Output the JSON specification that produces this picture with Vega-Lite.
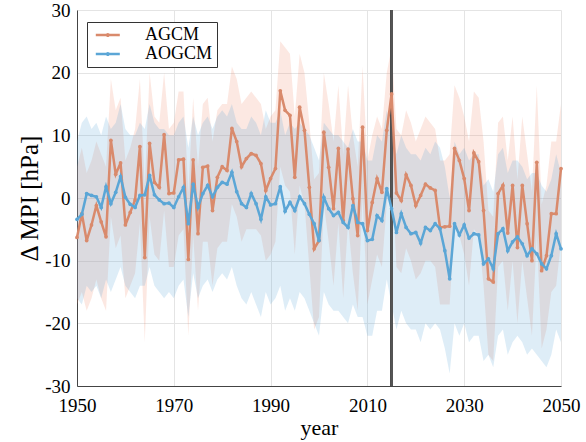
{
  "$schema": "https://vega.github.io/schema/vega-lite/v6.json",
  "width": 484,
  "height": 376,
  "autosize": {"type": "none"},
  "padding": {"left": 77, "top": 10, "right": 25, "bottom": 56},
  "background": "white",
  "config": {
    "view": {"stroke": null},
    "font": "Liberation Serif",
    "scale": {"continuousPadding": 0},
    "axis": {
      "labelFont": "Liberation Serif",
      "labelFontSize": 19,
      "labelColor": "black",
      "labelFlush": false,
      "titleFont": "Liberation Serif",
      "titleFontWeight": "normal",
      "titleColor": "black",
      "gridColor": "#e4e4e4",
      "gridWidth": 1,
      "domainColor": "#444444",
      "domainWidth": 1,
      "ticks": false
    },
    "legend": {
      "labelFont": "Liberation Serif",
      "labelFontSize": 18,
      "labelColor": "black"
    }
  },
  "data": {
    "values": [
      {"year":1950,"a":-6.3,"alo":-17,"ahi":5,"o":-3.4,"olo":-16,"ohi":9},
      {"year":1951,"a":-2.5,"alo":-15,"ahi":8,"o":-2.6,"olo":-17,"ohi":12},
      {"year":1952,"a":-6.8,"alo":-18,"ahi":4,"o":0.7,"olo":-14,"ohi":13},
      {"year":1953,"a":-4.3,"alo":-16,"ahi":6,"o":0.4,"olo":-15,"ohi":11},
      {"year":1954,"a":-1.2,"alo":-13,"ahi":9,"o":0.2,"olo":-14,"ohi":12},
      {"year":1955,"a":-3.8,"alo":-16,"ahi":7,"o":-1.5,"olo":-16,"ohi":10},
      {"year":1956,"a":-6.2,"alo":-18,"ahi":5,"o":1.8,"olo":-13,"ohi":13},
      {"year":1957,"a":9.2,"alo":-3,"ahi":19,"o":-0.9,"olo":-15,"ohi":11},
      {"year":1958,"a":3.8,"alo":-8,"ahi":14,"o":0.9,"olo":-13,"ohi":12},
      {"year":1959,"a":5.6,"alo":-6,"ahi":16,"o":3.4,"olo":-11,"ohi":15},
      {"year":1960,"a":-4.3,"alo":-16,"ahi":6,"o":0.1,"olo":-14,"ohi":11},
      {"year":1961,"a":-2.3,"alo":-14,"ahi":8,"o":-1.0,"olo":-15,"ohi":10},
      {"year":1962,"a":-0.3,"alo":-12,"ahi":11,"o":-1.5,"olo":-16,"ohi":10},
      {"year":1963,"a":8.2,"alo":-4,"ahi":19,"o":0.4,"olo":-14,"ohi":12},
      {"year":1964,"a":-9.5,"alo":-23,"ahi":2,"o":0.5,"olo":-14,"ohi":11},
      {"year":1965,"a":8.7,"alo":-3,"ahi":20,"o":3.6,"olo":-11,"ohi":15},
      {"year":1966,"a":2.5,"alo":-9,"ahi":13,"o":0.5,"olo":-14,"ohi":12},
      {"year":1967,"a":1.7,"alo":-10,"ahi":12,"o":-0.3,"olo":-15,"ohi":11},
      {"year":1968,"a":10.1,"alo":-2,"ahi":20,"o":-0.9,"olo":-16,"ohi":11},
      {"year":1969,"a":0.7,"alo":-11,"ahi":11,"o":-0.8,"olo":-15,"ohi":10},
      {"year":1970,"a":0.8,"alo":-11,"ahi":12,"o":-1.5,"olo":-16,"ohi":10},
      {"year":1971,"a":6.1,"alo":-6,"ahi":17,"o":0.2,"olo":-14,"ohi":12},
      {"year":1972,"a":6.2,"alo":-5,"ahi":17,"o":1.7,"olo":-13,"ohi":13},
      {"year":1973,"a":-9.8,"alo":-22,"ahi":1,"o":-4.1,"olo":-19,"ohi":8},
      {"year":1974,"a":6.1,"alo":-6,"ahi":16,"o":2.2,"olo":-12,"ohi":13},
      {"year":1975,"a":-5.7,"alo":-18,"ahi":5,"o":-1.5,"olo":-16,"ohi":10},
      {"year":1976,"a":4.9,"alo":-7,"ahi":15,"o":0.7,"olo":-14,"ohi":12},
      {"year":1977,"a":5.1,"alo":-7,"ahi":16,"o":2.0,"olo":-13,"ohi":13},
      {"year":1978,"a":-2.0,"alo":-14,"ahi":9,"o":0.2,"olo":-15,"ohi":11},
      {"year":1979,"a":3.3,"alo":-8,"ahi":14,"o":1.7,"olo":-13,"ohi":13},
      {"year":1980,"a":5.0,"alo":-7,"ahi":15,"o":2.5,"olo":-12,"ohi":14},
      {"year":1981,"a":4.4,"alo":-7,"ahi":15,"o":2.2,"olo":-13,"ohi":13},
      {"year":1982,"a":11.1,"alo":-1,"ahi":21,"o":4.1,"olo":-11,"ohi":15},
      {"year":1983,"a":9.0,"alo":-3,"ahi":19,"o":1.0,"olo":-14,"ohi":12},
      {"year":1984,"a":5.0,"alo":-7,"ahi":15,"o":-0.9,"olo":-16,"ohi":11},
      {"year":1985,"a":6.3,"alo":-5,"ahi":16,"o":-1.5,"olo":-17,"ohi":11},
      {"year":1986,"a":7.1,"alo":-5,"ahi":17,"o":0.7,"olo":-15,"ohi":13},
      {"year":1987,"a":6.8,"alo":-5,"ahi":16,"o":-0.9,"olo":-17,"ohi":12},
      {"year":1988,"a":5.5,"alo":-6,"ahi":15,"o":-3.4,"olo":-19,"ohi":10},
      {"year":1989,"a":1.2,"alo":-10,"ahi":11,"o":0.2,"olo":-15,"ohi":14},
      {"year":1990,"a":3.1,"alo":-9,"ahi":13,"o":-1.1,"olo":-17,"ohi":12},
      {"year":1991,"a":4.7,"alo":-7,"ahi":14,"o":-0.9,"olo":-16,"ohi":12},
      {"year":1992,"a":17.1,"alo":5,"ahi":25,"o":1.8,"olo":-14,"ohi":14},
      {"year":1993,"a":14.0,"alo":2,"ahi":24,"o":-2.1,"olo":-18,"ohi":10},
      {"year":1994,"a":13.2,"alo":1,"ahi":23,"o":-0.7,"olo":-16,"ohi":12},
      {"year":1995,"a":3.3,"alo":-9,"ahi":13,"o":-2.0,"olo":-18,"ohi":11},
      {"year":1996,"a":14.5,"alo":2,"ahi":23,"o":0.2,"olo":-15,"ohi":12},
      {"year":1997,"a":10.8,"alo":-1,"ahi":20,"o":-0.9,"olo":-16,"ohi":11},
      {"year":1998,"a":1.7,"alo":-11,"ahi":12,"o":-2.6,"olo":-18,"ohi":10},
      {"year":1999,"a":-8.1,"alo":-21,"ahi":3,"o":-4.1,"olo":-20,"ohi":8},
      {"year":2000,"a":-6.8,"alo":-19,"ahi":4,"o":-6.8,"olo":-22,"ohi":6},
      {"year":2001,"a":10.5,"alo":-1,"ahi":20,"o":0.1,"olo":-15,"ohi":12},
      {"year":2002,"a":4.9,"alo":-7,"ahi":15,"o":-1.7,"olo":-17,"ohi":11},
      {"year":2003,"a":-1.7,"alo":-14,"ahi":9,"o":-2.8,"olo":-18,"ohi":10},
      {"year":2004,"a":7.9,"alo":-4,"ahi":18,"o":-2.3,"olo":-18,"ohi":10},
      {"year":2005,"a":-3.6,"alo":-16,"ahi":7,"o":-3.9,"olo":-19,"ohi":9},
      {"year":2006,"a":7.8,"alo":-4,"ahi":18,"o":-4.7,"olo":-20,"ohi":8},
      {"year":2007,"a":-0.1,"alo":-12,"ahi":10,"o":-1.2,"olo":-17,"ohi":11},
      {"year":2008,"a":-6.0,"alo":-18,"ahi":5,"o":-3.9,"olo":-19,"ohi":9},
      {"year":2009,"a":11.3,"alo":0,"ahi":21,"o":-4.1,"olo":-19,"ohi":9},
      {"year":2010,"a":-5.2,"alo":-17,"ahi":6,"o":-6.8,"olo":-22,"ohi":6},
      {"year":2011,"a":-0.7,"alo":-13,"ahi":10,"o":-6.6,"olo":-22,"ohi":6},
      {"year":2012,"a":3.1,"alo":-9,"ahi":13,"o":-2.8,"olo":-18,"ohi":10},
      {"year":2013,"a":0.9,"alo":-11,"ahi":11,"o":-3.6,"olo":-18,"ohi":9},
      {"year":2014,"a":10.8,"alo":-1,"ahi":20,"o":1.5,"olo":-13,"ohi":14},
      {"year":2015,"a":16.6,"alo":5,"ahi":24,"o":-1.7,"olo":-17,"ohi":11},
      {"year":2016,"a":0.8,"alo":-11,"ahi":11,"o":-5.5,"olo":-21,"ohi":7},
      {"year":2017,"a":-0.4,"alo":-12,"ahi":10,"o":-2.5,"olo":-18,"ohi":10},
      {"year":2018,"a":3.7,"alo":-8,"ahi":14,"o":-4.7,"olo":-20,"ohi":8},
      {"year":2019,"a":2.0,"alo":-10,"ahi":12,"o":-5.7,"olo":-21,"ohi":7},
      {"year":2020,"a":-1.2,"alo":-13,"ahi":9,"o":-5.5,"olo":-21,"ohi":7},
      {"year":2021,"a":0.4,"alo":-12,"ahi":11,"o":-7.2,"olo":-23,"ohi":6},
      {"year":2022,"a":2.2,"alo":-10,"ahi":13,"o":-4.7,"olo":-20,"ohi":8},
      {"year":2023,"a":1.6,"alo":-10,"ahi":12,"o":-5.2,"olo":-21,"ohi":7},
      {"year":2024,"a":1.2,"alo":-11,"ahi":11,"o":-4.1,"olo":-20,"ohi":9},
      {"year":2025,"a":-4.7,"alo":-17,"ahi":6,"o":-4.9,"olo":-21,"ohi":8},
      {"year":2026,"a":-4.6,"alo":-17,"ahi":6,"o":-8.4,"olo":-24,"ohi":5},
      {"year":2027,"a":-4.5,"alo":-17,"ahi":7,"o":-12.9,"olo":-28,"ohi":0},
      {"year":2028,"a":7.9,"alo":-4,"ahi":18,"o":-4.1,"olo":-20,"ohi":9},
      {"year":2029,"a":6.0,"alo":-6,"ahi":16,"o":-5.9,"olo":-22,"ohi":7},
      {"year":2030,"a":3.1,"alo":-9,"ahi":13,"o":-4.3,"olo":-20,"ohi":8},
      {"year":2031,"a":-2.0,"alo":-14,"ahi":9,"o":-6.4,"olo":-23,"ohi":6},
      {"year":2032,"a":7.2,"alo":-5,"ahi":17,"o":-5.7,"olo":-22,"ohi":7},
      {"year":2033,"a":5.8,"alo":-6,"ahi":16,"o":-5.9,"olo":-22,"ohi":7},
      {"year":2034,"a":-2.0,"alo":-14,"ahi":9,"o":-10.5,"olo":-26,"ohi":2},
      {"year":2035,"a":-12.9,"alo":-25,"ahi":-2,"o":-9.7,"olo":-25,"ohi":3},
      {"year":2036,"a":-13.4,"alo":-26,"ahi":-3,"o":-11.3,"olo":-27,"ohi":1},
      {"year":2037,"a":0.7,"alo":-11,"ahi":12,"o":-5.7,"olo":-22,"ohi":7},
      {"year":2038,"a":2.0,"alo":-10,"ahi":13,"o":-4.9,"olo":-21,"ohi":8},
      {"year":2039,"a":-5.6,"alo":-18,"ahi":6,"o":-8.4,"olo":-25,"ohi":4},
      {"year":2040,"a":2.0,"alo":-10,"ahi":13,"o":-7.0,"olo":-23,"ohi":6},
      {"year":2041,"a":-7.9,"alo":-20,"ahi":3,"o":-6.2,"olo":-22,"ohi":6},
      {"year":2042,"a":2.0,"alo":-10,"ahi":13,"o":-7.3,"olo":-23,"ohi":5},
      {"year":2043,"a":-4.1,"alo":-16,"ahi":7,"o":-9.2,"olo":-25,"ohi":3},
      {"year":2044,"a":-10.0,"alo":-22,"ahi":1,"o":-8.1,"olo":-24,"ohi":4},
      {"year":2045,"a":5.7,"alo":-6,"ahi":18,"o":-8.9,"olo":-25,"ohi":4},
      {"year":2046,"a":-11.6,"alo":-24,"ahi":-1,"o":-10.5,"olo":-26,"ohi":2},
      {"year":2047,"a":-9.2,"alo":-21,"ahi":2,"o":-11.3,"olo":-27,"ohi":1},
      {"year":2048,"a":-2.5,"alo":-15,"ahi":9,"o":-9.2,"olo":-25,"ohi":3},
      {"year":2049,"a":-2.5,"alo":-14,"ahi":9,"o":-5.7,"olo":-21,"ohi":7},
      {"year":2050,"a":4.7,"alo":-7,"ahi":15,"o":-8.1,"olo":-23,"ohi":4}
    ]
  },
  "encoding": {
    "x": {
      "field": "year",
      "type": "quantitative",
      "scale": {"domain": [1950, 2050], "nice": false, "zero": false, "padding": 0},
      "axis": {
        "values": [1950, 1970, 1990, 2010, 2030, 2050],
        "format": "d",
        "title": "year",
        "titleFontSize": 22,
        "labelPadding": 10,
        "titlePadding": 2
      }
    }
  },
  "layer": [
    {
      "mark": {"type": "area", "color": "rgb(240,140,110)", "opacity": 0.2},
      "encoding": {
        "y": {
          "field": "alo",
          "type": "quantitative",
          "scale": {"domain": [-30, 30], "nice": false, "padding": 0},
          "axis": {
            "values": [-30, -20, -10, 0, 10, 20, 30],
            "labelExpr": "'' + datum.value",
            "title": "Δ MPI [hPa]",
            "titleFontSize": 25,
            "labelPadding": 7,
            "titlePadding": 2
          }
        },
        "y2": {"field": "ahi"}
      }
    },
    {
      "mark": {"type": "area", "color": "rgb(90,165,215)", "opacity": 0.2},
      "encoding": {
        "y": {"field": "olo", "type": "quantitative"},
        "y2": {"field": "ohi"}
      }
    },
    {
      "mark": {"type": "rule", "color": "#555555", "strokeWidth": 1.3},
      "encoding": {"x": {"datum": 2015}}
    },
    {
      "mark": {"type": "line", "strokeWidth": 2.5, "point": {"filled": true, "size": 14}},
      "encoding": {
        "y": {"field": "a", "type": "quantitative"},
        "color": {
          "datum": "AGCM",
          "type": "nominal",
          "scale": {"domain": ["AGCM", "AOGCM"], "range": ["#d98a6c", "#5ba6d6"]},
          "legend": {
            "title": null,
            "orient": "none",
            "legendX": 10,
            "legendY": 12,
            "strokeColor": "#333333",
            "fillColor": "white",
            "padding": 4,
            "symbolType": "M-1.4,0H6.6M2.35,0A0.25,0.25 0 1,1 2.85,0A0.25,0.25 0 1,1 2.35,0",
            "symbolSize": 36,
            "symbolStrokeWidth": 2.5,
            "symbolFillColor": "transparent",
            "labelOffset": 36,
            "rowPadding": 1
          }
        }
      }
    },
    {
      "mark": {"type": "line", "strokeWidth": 2.5, "point": {"filled": true, "size": 14}},
      "encoding": {
        "y": {"field": "o", "type": "quantitative"},
        "color": {"datum": "AOGCM", "type": "nominal"}
      }
    }
  ]
}
